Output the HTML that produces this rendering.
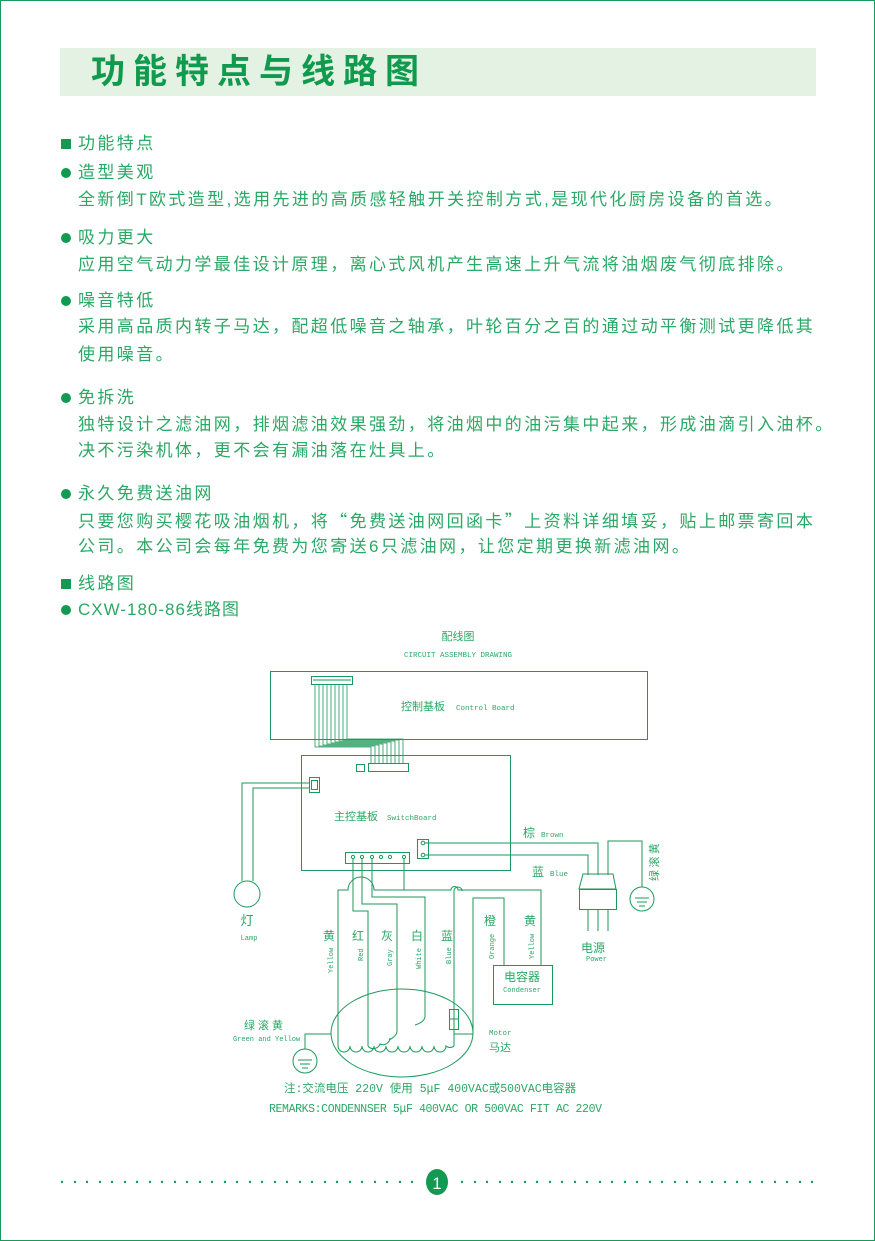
<!DOCTYPE html>
<html><head><meta charset="utf-8"><style>
html,body{margin:0;padding:0;background:#fff}
#pg{position:relative;width:875px;height:1241px;overflow:hidden;box-sizing:border-box;border:1.5px solid #1a9a5a;font-family:"Liberation Sans","Noto Sans CJK SC",sans-serif}
.band{position:absolute;left:59px;top:47px;width:756px;height:48px;background:#e3f2e3}
.title{position:absolute;left:90px;top:48px;font-size:34px;line-height:46px;color:#109a4e;letter-spacing:8px;font-weight:bold}
.t{position:absolute;left:77px;font-size:17px;line-height:20px;color:#2aa865;letter-spacing:2.4px;white-space:nowrap}
.q{font-family:"Noto Sans CJK SC",sans-serif}
.sq{position:absolute;left:60px;width:10px;height:10px;background:#129a52}
.dot{position:absolute;left:60px;width:10px;height:10px;border-radius:50%;background:#129a52}
svg{position:absolute;left:0;top:0}
</style></head><body><div id="pg">
<div class="band"></div>
<div class="title">功能特点与线路图</div>

<div class="sq" style="top:138px"></div><div class="t" style="top:133px">功能特点</div>
<div class="dot" style="top:167px"></div><div class="t" style="top:162px">造型美观</div>
<div class="t" style="top:189px">全新倒T欧式造型,选用先进的高质感轻触开关控制方式,是现代化厨房设备的首选。</div>
<div class="dot" style="top:232px"></div><div class="t" style="top:227px">吸力更大</div>
<div class="t" style="top:254px">应用空气动力学最佳设计原理，离心式风机产生高速上升气流将油烟废气彻底排除。</div>
<div class="dot" style="top:295px"></div><div class="t" style="top:290px">噪音特低</div>
<div class="t" style="top:316px">采用高品质内转子马达，配超低噪音之轴承，叶轮百分之百的通过动平衡测试更降低其</div>
<div class="t" style="top:344px">使用噪音。</div>
<div class="dot" style="top:392px"></div><div class="t" style="top:387px">免拆洗</div>
<div class="t" style="top:414px">独特设计之滤油网，排烟滤油效果强劲，将油烟中的油污集中起来，形成油滴引入油杯。</div>
<div class="t" style="top:440px">决不污染机体，更不会有漏油落在灶具上。</div>
<div class="dot" style="top:488px"></div><div class="t" style="top:483px">永久免费送油网</div>
<div class="t" style="top:509px">只要您购买樱花吸油烟机，将<span class="q">“</span>免费送油网回函卡<span class="q">”</span>上资料详细填妥，贴上邮票寄回本</div>
<div class="t" style="top:536px">公司。本公司会每年免费为您寄送6只滤油网，让您定期更换新滤油网。</div>
<div class="sq" style="top:578px"></div><div class="t" style="top:573px">线路图</div>
<div class="dot" style="top:604px"></div><div class="t" style="top:599px;letter-spacing:1px">CXW-180-86线路图</div>

<svg width="875" height="1241" viewBox="0 0 875 1241" fill="none" stroke="#1a9a5a" stroke-width="1">
<g font-family="Liberation Mono, Noto Sans CJK SC, monospace" fill="#2aa865" stroke="none">
<text x="457" y="639" font-size="11" text-anchor="middle" font-family="Noto Sans CJK SC,sans-serif">配线图</text>
<text x="457" y="656" font-size="7.5" text-anchor="middle">CIRCUIT ASSEMBLY DRAWING</text>
<text x="400" y="709" font-size="11" font-family="Noto Sans CJK SC,sans-serif">控制基板</text>
<text x="455" y="709" font-size="7.5">Control Board</text>
<text x="333" y="819" font-size="11" font-family="Noto Sans CJK SC,sans-serif">主控基板</text>
<text x="386" y="819" font-size="7.5">SwitchBoard</text>
<text x="522" y="836" font-size="12" font-family="Noto Sans CJK SC,sans-serif">棕</text>
<text x="540" y="836" font-size="7.5">Brown</text>
<text x="531" y="875" font-size="12" font-family="Noto Sans CJK SC,sans-serif">蓝</text>
<text x="549" y="875" font-size="7.5">Blue</text>
<text transform="translate(657,880) rotate(-90)" font-size="11" font-family="Noto Sans CJK SC,sans-serif">绿 滚 黄</text>
<text x="246" y="924" font-size="13" text-anchor="middle" font-family="Noto Sans CJK SC,sans-serif">灯</text>
<text x="248" y="939" font-size="7" text-anchor="middle">Lamp</text>
<text x="580" y="951" font-size="12" font-family="Noto Sans CJK SC,sans-serif">电源</text>
<text x="585" y="960" font-size="7">Power</text>
<g font-size="12" font-family="Noto Sans CJK SC,sans-serif">
<text x="322" y="939">黄</text><text x="351" y="939">红</text><text x="380" y="939">灰</text><text x="410" y="939">白</text><text x="440" y="939">蓝</text><text x="483" y="924">橙</text><text x="523" y="924">黄</text></g>
<g font-size="7">
<text transform="translate(332,972) rotate(-90)">Yellow</text>
<text transform="translate(362,960) rotate(-90)">Red</text>
<text transform="translate(391,965) rotate(-90)">Gray</text>
<text transform="translate(420,968) rotate(-90)">White</text>
<text transform="translate(450,963) rotate(-90)">Blue</text>
<text transform="translate(493,958) rotate(-90)">Orange</text>
<text transform="translate(533,958) rotate(-90)">Yellow</text></g>
<text x="521" y="980" font-size="12" text-anchor="middle" font-family="Noto Sans CJK SC,sans-serif">电容器</text>
<text x="521" y="991" font-size="7" text-anchor="middle">Condenser</text>
<text x="243" y="1028" font-size="11" font-family="Noto Sans CJK SC,sans-serif" letter-spacing="3">绿滚黄</text>
<text x="232" y="1040" font-size="7">Green and Yellow</text>
<text x="488" y="1034" font-size="7.5">Motor</text>
<text x="488" y="1050" font-size="11" font-family="Noto Sans CJK SC,sans-serif">马达</text>
<text x="283" y="1091" font-size="11.5" font-family="Liberation Mono,Noto Sans CJK SC,monospace">注:交流电压 220V 使用 5μF 400VAC或500VAC电容器</text>
<text x="268" y="1111" font-size="11.5" textLength="333">REMARKS:CONDENNSER 5μF 400VAC OR 500VAC FIT AC 220V</text>
</g>
<rect x="269.5" y="670.5" width="377" height="68"/>
<rect x="310.5" y="675.5" width="41" height="8"/>
<line x1="312" y1="679" x2="350" y2="679"/>
<g stroke-width="0.8">
<path d="M314 683V746H370V762"/><path d="M318 683V745H374V762"/><path d="M322 683V744H378V762"/><path d="M326 683V743H382V762"/><path d="M330 683V742H386V762"/><path d="M334 683V741H390V762"/><path d="M338 683V740H394V762"/><path d="M342 683V739H398V762"/><path d="M346 683V738H402V762"/>
</g>
<path d="M300.5 869V754.5H509.5V869" /><path d="M300 869.5H510" />
<rect x="355.5" y="763.5" width="8" height="7"/>
<rect x="367.5" y="762.5" width="40" height="8"/>
<rect x="308.5" y="776.5" width="10" height="15"/><rect x="310.5" y="779.5" width="6" height="9"/>
<path d="M308 782H241V880"/><path d="M308 787H252V880"/>
<circle cx="246" cy="893" r="13"/>
<path d="M416.5 838.5H427.5V857.5H416.5Z"/>
<circle cx="422" cy="842" r="1.8"/><circle cx="422" cy="854" r="1.8"/>
<path d="M424 842H597V874"/><path d="M424 854H587V874"/>
<path d="M607 874V840H641V886"/>
<circle cx="641" cy="898" r="12"/><path d="M634 897H648M636 901H646M638 905H644"/>
<path d="M582 873H612L615 888H578Z"/><rect x="578.5" y="888.5" width="37" height="20"/>
<path d="M587 909V930M597 909V930M607 909V930"/>
<rect x="344.5" y="851.5" width="64" height="11"/>
<g><circle cx="352" cy="856" r="1.6"/><circle cx="361" cy="856" r="1.6"/><circle cx="371" cy="856" r="1.6"/><circle cx="380" cy="856" r="1.6"/><circle cx="389" cy="856" r="1.6"/><circle cx="403" cy="856" r="1.6"/></g>
<path d="M352 858V910H367V1045"/>
<path d="M361 858V903H396V1030q0 5 -8 9"/>
<path d="M371 858V896H424V1015q0 6 -10 9"/>
<path d="M403 858V889"/>
<path d="M337 1045V889H347A13 13 0 0 1 373 889H450A3.5 3.5 0 0 1 457 889H540V964"/>
<path d="M453 1045V890A4 4 0 0 1 461 890"/>
<path d="M472 1033V897H503V964"/>
<path d="M453 1033H472"/>
<rect x="448.5" y="1008.5" width="9" height="20"/><line x1="448" y1="1018" x2="458" y2="1018"/>
<rect x="492.5" y="964.5" width="59" height="39"/>
<path d="M337 1045a6 6 0 0 0 12 0a6 6 0 0 0 12 0a6 6 0 0 0 12 0a6 6 0 0 0 12 0a6 6 0 0 0 12 0a6 6 0 0 0 12 0a6 6 0 0 0 12 0a6 6 0 0 0 12 0a6 6 0 0 0 12 0a6 6 0 0 0 8 0"/>
<path d="M367 1045a7 7 0 0 0 12-2a7 7 0 0 0 10-6"/>
<ellipse cx="401" cy="1032" rx="71" ry="44"/>
<path d="M330 1033H304V1048"/>
<circle cx="304" cy="1060" r="12"/><path d="M297 1059H311M299 1063H309M301 1067H307"/>
</svg>

<svg width="875" height="1241">
<g fill="#129a52">
<circle cx="61" cy="1181" r="1.2"/><circle cx="74" cy="1181" r="1.2"/><circle cx="86" cy="1181" r="1.2"/><circle cx="99" cy="1181" r="1.2"/><circle cx="111" cy="1181" r="1.2"/><circle cx="124" cy="1181" r="1.2"/><circle cx="136" cy="1181" r="1.2"/><circle cx="149" cy="1181" r="1.2"/><circle cx="161" cy="1181" r="1.2"/><circle cx="174" cy="1181" r="1.2"/><circle cx="186" cy="1181" r="1.2"/><circle cx="199" cy="1181" r="1.2"/><circle cx="211" cy="1181" r="1.2"/><circle cx="224" cy="1181" r="1.2"/><circle cx="236" cy="1181" r="1.2"/><circle cx="249" cy="1181" r="1.2"/><circle cx="261" cy="1181" r="1.2"/><circle cx="274" cy="1181" r="1.2"/><circle cx="286" cy="1181" r="1.2"/><circle cx="299" cy="1181" r="1.2"/><circle cx="311" cy="1181" r="1.2"/><circle cx="324" cy="1181" r="1.2"/><circle cx="336" cy="1181" r="1.2"/><circle cx="349" cy="1181" r="1.2"/><circle cx="361" cy="1181" r="1.2"/><circle cx="374" cy="1181" r="1.2"/><circle cx="386" cy="1181" r="1.2"/><circle cx="399" cy="1181" r="1.2"/><circle cx="411" cy="1181" r="1.2"/>
<circle cx="461" cy="1181" r="1.2"/><circle cx="474" cy="1181" r="1.2"/><circle cx="486" cy="1181" r="1.2"/><circle cx="499" cy="1181" r="1.2"/><circle cx="511" cy="1181" r="1.2"/><circle cx="524" cy="1181" r="1.2"/><circle cx="536" cy="1181" r="1.2"/><circle cx="549" cy="1181" r="1.2"/><circle cx="561" cy="1181" r="1.2"/><circle cx="574" cy="1181" r="1.2"/><circle cx="586" cy="1181" r="1.2"/><circle cx="599" cy="1181" r="1.2"/><circle cx="611" cy="1181" r="1.2"/><circle cx="624" cy="1181" r="1.2"/><circle cx="636" cy="1181" r="1.2"/><circle cx="649" cy="1181" r="1.2"/><circle cx="661" cy="1181" r="1.2"/><circle cx="674" cy="1181" r="1.2"/><circle cx="686" cy="1181" r="1.2"/><circle cx="699" cy="1181" r="1.2"/><circle cx="711" cy="1181" r="1.2"/><circle cx="724" cy="1181" r="1.2"/><circle cx="736" cy="1181" r="1.2"/><circle cx="749" cy="1181" r="1.2"/><circle cx="761" cy="1181" r="1.2"/><circle cx="774" cy="1181" r="1.2"/><circle cx="786" cy="1181" r="1.2"/><circle cx="799" cy="1181" r="1.2"/><circle cx="811" cy="1181" r="1.2"/>
<ellipse cx="436" cy="1181" rx="11" ry="13"/>
</g>
<text x="436" y="1188" font-size="17" fill="#fff" text-anchor="middle" font-family="Liberation Sans,sans-serif">1</text>
</svg>
</div></body></html>
